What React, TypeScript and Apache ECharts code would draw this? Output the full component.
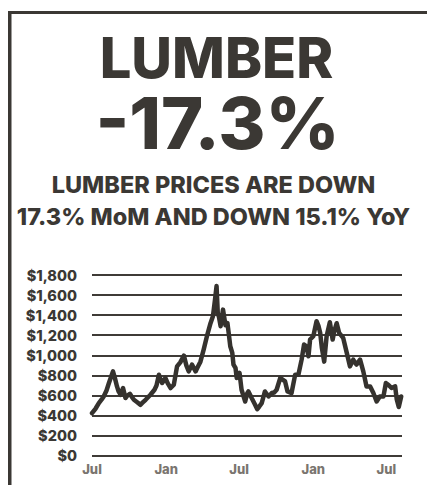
import React, { useEffect, useRef } from "react";
import * as echarts from "echarts";

const TITLE = "LUMBER";
const BIG_FIGURE = "-17.3%";
const SUB_LINE_1 = "LUMBER PRICES ARE DOWN";
const SUB_LINE_2 = "17.3% MoM AND DOWN 15.1% YoY";

const dates = [
  "2020-07-01", "2020-07-10", "2020-07-18", "2020-07-25", "2020-07-30", "2020-08-06", "2020-08-12", "2020-08-22",
  "2020-08-27", "2020-09-01", "2020-09-05", "2020-09-10", "2020-09-16", "2020-09-22", "2020-09-27", "2020-10-03",
  "2020-10-07", "2020-10-13", "2020-10-22", "2020-10-29", "2020-11-04", "2020-11-11", "2020-11-23", "2020-12-03",
  "2020-12-08", "2020-12-14", "2020-12-18", "2020-12-22", "2020-12-30", "2021-01-05", "2021-01-12", "2021-01-20",
  "2021-01-28", "2021-02-05", "2021-02-14", "2021-02-20", "2021-02-26", "2021-03-06", "2021-03-15", "2021-03-20",
  "2021-03-27", "2021-04-04", "2021-04-13", "2021-04-21", "2021-04-27", "2021-05-02", "2021-05-06", "2021-05-09",
  "2021-05-12", "2021-05-16", "2021-05-22", "2021-05-28", "2021-06-02", "2021-06-05", "2021-06-09", "2021-06-14",
  "2021-06-17", "2021-06-22", "2021-06-25", "2021-07-02", "2021-07-07", "2021-07-16", "2021-07-21", "2021-07-24",
  "2021-08-01", "2021-08-08", "2021-08-15", "2021-08-20", "2021-08-26", "2021-09-03", "2021-09-12", "2021-09-20",
  "2021-09-26", "2021-10-02", "2021-10-11", "2021-10-16", "2021-10-23", "2021-10-29", "2021-11-08", "2021-11-17",
  "2021-11-25", "2021-12-03", "2021-12-09", "2021-12-15", "2021-12-20", "2021-12-24", "2022-01-01", "2022-01-09",
  "2022-01-14", "2022-01-18", "2022-01-22", "2022-01-28", "2022-02-03", "2022-02-11", "2022-02-18", "2022-02-22",
  "2022-02-28", "2022-03-06", "2022-03-16", "2022-03-25", "2022-04-02", "2022-04-10", "2022-04-18", "2022-04-27",
  "2022-05-05", "2022-05-13", "2022-05-22", "2022-05-30", "2022-06-07", "2022-06-15", "2022-06-24", "2022-06-30",
  "2022-07-06", "2022-07-14", "2022-07-23", "2022-07-27", "2022-08-01", "2022-08-07",
];

const prices = [
  423, 470, 524, 560, 590, 650, 724, 840,
  770, 690, 640, 607, 674, 574, 600, 617,
  590, 557, 530, 507, 530, 557, 607, 657,
  700, 807, 760, 724, 774, 720, 674, 707,
  890, 930, 997, 900, 840, 907, 840, 880,
  937, 1057, 1204, 1320, 1390, 1550, 1690, 1420,
  1380, 1290, 1455, 1300, 1320, 1224, 1090, 1024,
  907, 874, 774, 824, 657, 540, 620, 640,
  574, 520, 464, 490, 524, 640, 590, 624,
  630, 657, 774, 760, 740, 640, 624, 807,
  807, 957, 1107, 1090, 990, 1157, 1190, 1340,
  1290, 1224, 1080, 937, 1190, 1330, 1157, 1240,
  1320, 1224, 1174, 1024, 890, 957, 907, 957,
  840, 690, 690, 624, 540, 590, 590, 724,
  707, 674, 690, 560, 485, 590,
];

const xTickDates = ["2020-07-01", "2021-01-01", "2021-07-01", "2022-01-01", "2022-07-01"];
const monthNames = ["Jan", "Feb", "Mar", "Apr", "May", "Jun", "Jul", "Aug", "Sep", "Oct", "Nov", "Dec"];
const xMin = "2020-07-01";
const xMax = "2022-08-09";
const yMin = 0;
const yMax = 1800;
const yStep = 200;

const DARK = "#3b3834";
const FONT = "Inter, 'Noto Sans', sans-serif";

const ts = (d: string) => {
  const [y, m, day] = d.split("-").map(Number);
  return Date.UTC(y, m - 1, day);
};

export default function App() {
  const ref = useRef<HTMLDivElement>(null);
  useEffect(() => {
    if (!ref.current) return;
    const chart = echarts.init(ref.current, undefined, { renderer: "svg" });
    chart.setOption({
      animation: false,
      backgroundColor: "#ffffff",
      grid: { left: 92, right: 25, top: 275, bottom: 29.3 },
      xAxis: {
        type: "value",
        min: ts(xMin),
        max: ts(xMax),
        axisLine: { show: false },
        axisTick: { show: false },
        splitLine: { show: false },
        axisLabel: {
          customValues: xTickDates.map(ts),
          formatter: (v: number) => monthNames[new Date(v).getUTCMonth()],
          color: "#7a756f",
          fontFamily: FONT,
          fontWeight: 800,
          fontSize: 13,
          margin: 7,
        },
      },
      yAxis: {
        type: "value",
        min: yMin,
        max: yMax,
        interval: yStep,
        axisLine: { show: false },
        axisTick: { show: false },
        axisLabel: {
          formatter: (v: number) => "$" + v.toLocaleString("en-US"),
          color: DARK,
          fontFamily: FONT,
          fontWeight: 800,
          fontSize: 14.5,
          margin: 15,
        },
        splitLine: { lineStyle: { color: "#3f3b37", width: 2 } },
      },
      series: [
        {
          type: "line",
          data: dates.map((d, i) => [ts(d), prices[i]]),
          showSymbol: false,
          lineStyle: { color: "#35322e", width: 4.5, join: "round", cap: "round" },
        },
      ],
      graphic: [
        { type: "rect", shape: { x: 8, y: 11, width: 419, height: 3 }, style: { fill: DARK } },
        { type: "rect", shape: { x: 8, y: 11, width: 3.5, height: 474 }, style: { fill: DARK } },
        {
          type: "text",
          x: 216.5,
          y: 57.5,
          style: {
            text: TITLE, fill: DARK, fontFamily: FONT, fontWeight: 800, fontSize: 56, lineHeight: 46,
            align: "center", verticalAlign: "middle",
          },
        },
        {
          type: "text",
          x: 217.5,
          y: 122,
          style: {
            text: BIG_FIGURE, fill: DARK, fontFamily: FONT, fontWeight: 800, fontSize: 72, lineHeight: 58,
            align: "center", verticalAlign: "middle",
          },
        },
        {
          type: "text",
          x: 213.5,
          y: 184.5,
          style: {
            text: SUB_LINE_1, fill: DARK, fontFamily: FONT, fontWeight: 800, fontSize: 23.5,
            align: "center", verticalAlign: "middle",
          },
        },
        {
          type: "text",
          x: 213.5,
          y: 216,
          style: {
            text: SUB_LINE_2, fill: DARK, fontFamily: FONT, fontWeight: 800, fontSize: 23.5,
            align: "center", verticalAlign: "middle",
          },
        },
      ],
    });
    return () => chart.dispose();
  }, []);
  return (
    <div
      ref={ref}
      style={{ position: "fixed", left: 0, top: 0, width: 427, height: 485 }}
    />
  );
}
